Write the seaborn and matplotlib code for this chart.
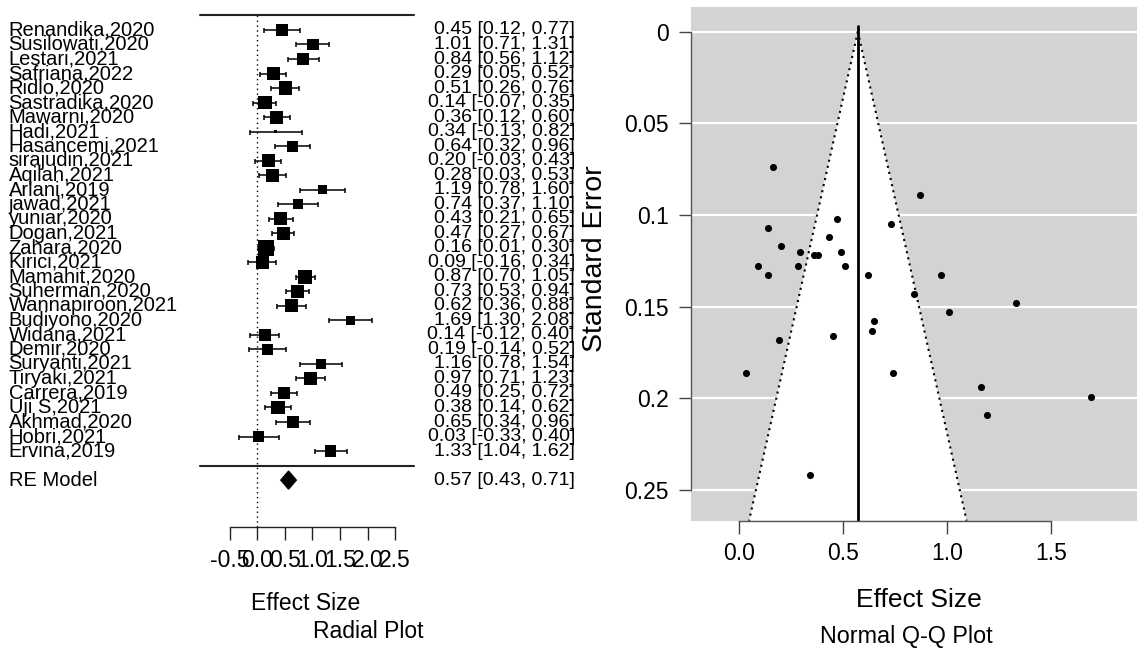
import numpy as np
import pandas as pd
import matplotlib
matplotlib.use("Agg")
import matplotlib.pyplot as plt
import seaborn as sns

# ---------------- data ----------------
studies = ["Renandika,2020", "Susilowati,2020", "Lestari,2021", "Safriana,2022", "Ridlo,2020",
           "Sastradika,2020", "Mawarni,2020", "Hadi,2021", "Hasancemi,2021", "sirajudin,2021",
           "Aqilah,2021", "Arlani,2019", "jawad,2021", "yuniar,2020", "Dogan,2021",
           "Zahara,2020", "Kirici,2021", "Mamahit,2020", "Suherman,2020", "Wannapiroon,2021",
           "Budiyono,2020", "Widana,2021", "Demir,2020", "Suryanti,2021", "Tiryaki,2021",
           "Carrera,2019", "Uji S,2021", "Akhmad,2020", "Hobri,2021", "Ervina,2019"]
effect = [0.45, 1.01, 0.84, 0.29, 0.51, 0.14, 0.36, 0.34, 0.64, 0.20,
          0.28, 1.19, 0.74, 0.43, 0.47, 0.16, 0.09, 0.87, 0.73, 0.62,
          1.69, 0.14, 0.19, 1.16, 0.97, 0.49, 0.38, 0.65, 0.03, 1.33]
ci_low = [0.12, 0.71, 0.56, 0.05, 0.26, -0.07, 0.12, -0.13, 0.32, -0.03,
          0.03, 0.78, 0.37, 0.21, 0.27, 0.01, -0.16, 0.70, 0.53, 0.36,
          1.30, -0.12, -0.14, 0.78, 0.71, 0.25, 0.14, 0.34, -0.33, 1.04]
ci_high = [0.77, 1.31, 1.12, 0.52, 0.76, 0.35, 0.60, 0.82, 0.96, 0.43,
           0.53, 1.60, 1.10, 0.65, 0.67, 0.30, 0.34, 1.05, 0.94, 0.88,
           2.08, 0.40, 0.52, 1.54, 1.23, 0.72, 0.62, 0.96, 0.40, 1.62]
std_err = [0.166, 0.153, 0.143, 0.120, 0.128, 0.107, 0.122, 0.242, 0.163, 0.117,
           0.128, 0.209, 0.186, 0.112, 0.102, 0.074, 0.128, 0.089, 0.105, 0.133,
           0.199, 0.133, 0.168, 0.194, 0.133, 0.120, 0.122, 0.158, 0.186, 0.148]
weights = [3.38, 3.38, 3.44, 3.54, 3.59, 3.59, 3.54, 2.50, 3.33, 3.54,
           3.54, 3.12, 3.28, 3.54, 3.54, 3.80, 3.54, 3.64, 3.59, 3.54,
           3.12, 3.49, 3.33, 3.23, 3.54, 3.44, 3.59, 3.44, 3.33, 3.38]
re_label = "RE Model"
re_est, re_low, re_high = 0.57, 0.43, 0.71
forest_ticks = [-0.5, 0.0, 0.5, 1.0, 1.5, 2.0, 2.5]
funnel_xticks = [0.0, 0.5, 1.0, 1.5]
funnel_yticks = [0, 0.05, 0.1, 0.15, 0.2, 0.25]
funnel_ytick_labels = ["0", "0.05", "0.1", "0.15", "0.2", "0.25"]

# ---------------- style ----------------
sns.set_theme(style="white")
plt.rcParams["font.family"] = ["Liberation Sans", "DejaVu Sans"]
plt.rcParams["axes.unicode_minus"] = False
for key in ["text.color", "axes.labelcolor", "xtick.color", "ytick.color"]:
    plt.rcParams[key] = "black"

W, H = 1137, 648
fig = plt.figure(figsize=(W / 100, H / 100), dpi=100)

def fx(px):
    return px / W

def fy(py):
    return 1 - py / H

# ---------------- forest plot (left) ----------------
k = len(studies)
rows = np.arange(k, 0, -1)
df = pd.DataFrame({"study": studies, "es": effect, "lo": ci_low, "hi": ci_high,
                   "w": weights, "row": rows})

ax = fig.add_axes([0, fy(527), fx(590), fy(5) - fy(527)])
ax.set_xlim(-4.658, 6.031)
ax.set_ylim(-4.23, 31.72)

# reference lines
ax.plot([0, 0], [-4.23, k + 1], color="black", lw=1.0, ls=(0, (1, 2.5)), zorder=1)
ax.plot([-1.03, 2.84], [k + 1, k + 1], color="#222222", lw=1.5)
ax.plot([-1.03, 2.84], [0, 0], color="#222222", lw=1.5)

# CIs
ax.errorbar(df["es"], df["row"], xerr=[df["es"] - df["lo"], df["hi"] - df["es"]],
            fmt="none", ecolor="black", elinewidth=1.1, capsize=1.8, capthick=1.1, zorder=2)

# squares sized by weight
w = np.asarray(weights)
side_px = 3 + (w - w.min()) / (w.max() - w.min()) * 12.5
sizes = (side_px * 0.72) ** 2
sns.scatterplot(data=df, x="es", y="row", marker="s", color="black", s=sizes,
                linewidth=0, legend=False, ax=ax, zorder=3)

# summary diamond
dh = 0.62
ax.fill([re_low, re_est, re_high, re_est], [-1, -1 + dh, -1, -1 - dh],
        color="black", zorder=3)

# texts
for _, r in df.iterrows():
    ax.text(-4.504, r["row"], r["study"], ha="left", va="center", fontsize=14.5, color="black")
    ax.text(5.759, r["row"], f"{r['es']:.2f} [{r['lo']:.2f}, {r['hi']:.2f}]",
            ha="right", va="center", fontsize=14.0, color="black")
ax.text(-4.504, -1, re_label, ha="left", va="center", fontsize=14.5)
ax.text(5.759, -1, f"{re_est:.2f} [{re_low:.2f}, {re_high:.2f}]", ha="right",
        va="center", fontsize=14.0)

for s in ["left", "top", "right"]:
    ax.spines[s].set_visible(False)
ax.spines["bottom"].set_bounds(forest_ticks[0], forest_ticks[-1])
ax.spines["bottom"].set_color("#222222")
ax.spines["bottom"].set_linewidth(1.0)
ax.set_xticks(forest_ticks)
ax.set_xticklabels([f"{t:.1f}" for t in forest_ticks])
ax.set_yticks([])
ax.tick_params(axis="x", bottom=True, direction="out", length=9, width=1.0,
               color="#222222", labelsize=16.5, pad=7)
ax.set_xlabel("")
ax.set_ylabel("")

fig.text(fx(306), fy(603), "Effect Size", ha="center", va="center", fontsize=16.5)
fig.text(fx(368), fy(632), "Radial Plot", ha="center", va="center", fontsize=16.5)

# ---------------- funnel plot (right) ----------------
ax2 = fig.add_axes([fx(691), fy(520.7), fx(1137) - fx(691), fy(7) - fy(520.7)])
x_lo, x_hi = -0.232, 1.912
y_top, y_bot = -0.0134, 0.2667
ax2.set_xlim(x_lo, x_hi)
ax2.set_ylim(y_bot, y_top)
ax2.set_facecolor("#d3d3d3")
for yt in funnel_yticks:
    ax2.axhline(yt, color="white", lw=1.6, zorder=1)
ax2.fill([re_est, re_est - 1.96 * y_bot, re_est + 1.96 * y_bot], [0, y_bot, y_bot],
         color="white", zorder=2, lw=0)
ax2.plot([re_est, re_est - 1.96 * y_bot], [0, y_bot], color="black", lw=1.5,
         ls=(0, (1, 2)), zorder=3)
ax2.plot([re_est, re_est + 1.96 * y_bot], [0, y_bot], color="black", lw=1.5,
         ls=(0, (1, 2)), zorder=3)
ax2.plot([re_est, re_est], [-0.003, y_bot], color="black", lw=2.0, zorder=3)

fdf = pd.DataFrame({"es": effect, "se": std_err})
sns.scatterplot(data=fdf, x="es", y="se", color="black", s=26, linewidth=0,
                legend=False, ax=ax2, zorder=4)

for s in ["top", "right"]:
    ax2.spines[s].set_visible(False)
ax2.spines["left"].set_bounds(funnel_yticks[0], funnel_yticks[-1])
ax2.spines["bottom"].set_bounds(funnel_xticks[0], funnel_xticks[-1])
for s in ["left", "bottom"]:
    ax2.spines[s].set_color("#555555")
    ax2.spines[s].set_linewidth(1.0)
    ax2.spines[s].set_zorder(5)
ax2.set_xticks(funnel_xticks)
ax2.set_xticklabels([f"{t:.1f}" for t in funnel_xticks])
ax2.set_yticks(funnel_yticks)
ax2.set_yticklabels(funnel_ytick_labels)
ax2.tick_params(axis="both", direction="out", length=9, width=1.0, color="#444444",
                labelsize=16.5, left=True, bottom=True)
ax2.tick_params(axis="y", pad=7)
ax2.tick_params(axis="x", pad=6)
ax2.set_xlabel("")
ax2.set_ylabel("")
ax2.grid(False)

fig.text(fx(919), fy(600), "Effect Size", ha="center", va="center", fontsize=19)
fig.text(fx(906), fy(637), "Normal Q-Q Plot", ha="center", va="center", fontsize=16.8)
fig.text(fx(595), fy(259), "Standard Error", ha="center", va="center", fontsize=20.5,
         rotation=90)

fig.savefig("out.png", dpi=100)
